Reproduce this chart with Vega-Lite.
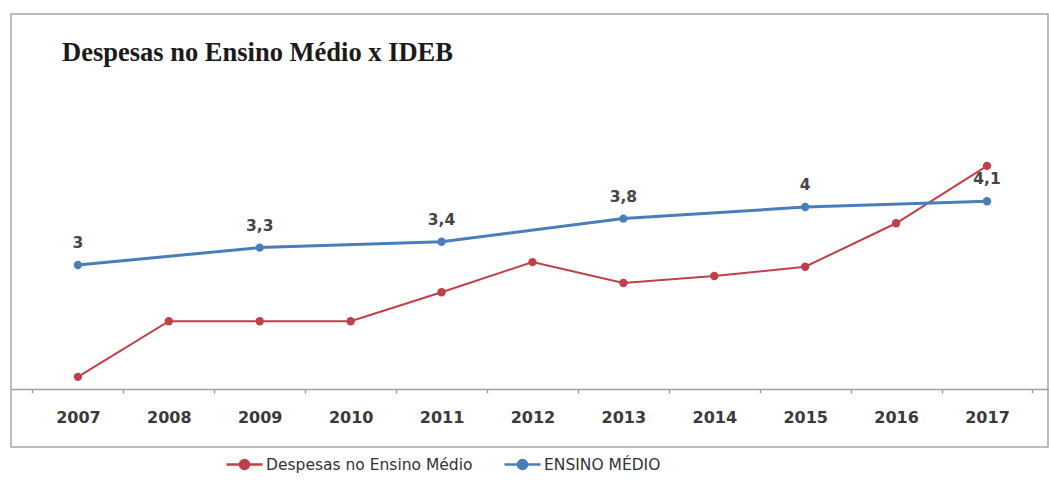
{
  "$schema": "https://vega.github.io/schema/vega-lite/v6.json",
  "autosize": {"type": "none"},
  "padding": {"left": 11, "top": 14, "right": 1, "bottom": 33},
  "width": 1037,
  "height": 433,
  "background": "white",
  "view": {"stroke": "#a6a6a6", "strokeWidth": 1.5},
  "title": {
    "text": "Despesas no Ensino Médio x IDEB",
    "anchor": "start",
    "frame": "group",
    "font": "Liberation Serif",
    "fontSize": 26.5,
    "fontWeight": "bold",
    "color": "#1a1a1a",
    "baseline": "alphabetic",
    "offset": 0,
    "dx": 51,
    "dy": 73
  },
  "data": {
    "values": [
      {"year": "2007", "series": "Despesas no Ensino Médio", "value": 1.07},
      {"year": "2008", "series": "Despesas no Ensino Médio", "value": 2.03},
      {"year": "2009", "series": "Despesas no Ensino Médio", "value": 2.03},
      {"year": "2010", "series": "Despesas no Ensino Médio", "value": 2.03},
      {"year": "2011", "series": "Despesas no Ensino Médio", "value": 2.53},
      {"year": "2012", "series": "Despesas no Ensino Médio", "value": 3.05},
      {"year": "2013", "series": "Despesas no Ensino Médio", "value": 2.69},
      {"year": "2014", "series": "Despesas no Ensino Médio", "value": 2.81},
      {"year": "2015", "series": "Despesas no Ensino Médio", "value": 2.97},
      {"year": "2016", "series": "Despesas no Ensino Médio", "value": 3.72},
      {"year": "2017", "series": "Despesas no Ensino Médio", "value": 4.71},
      {"year": "2007", "series": "ENSINO MÉDIO", "value": 3.0, "label": "3"},
      {"year": "2009", "series": "ENSINO MÉDIO", "value": 3.3, "label": "3,3"},
      {"year": "2011", "series": "ENSINO MÉDIO", "value": 3.4, "label": "3,4"},
      {"year": "2013", "series": "ENSINO MÉDIO", "value": 3.8, "label": "3,8"},
      {"year": "2015", "series": "ENSINO MÉDIO", "value": 4.0, "label": "4"},
      {"year": "2017", "series": "ENSINO MÉDIO", "value": 4.1, "label": "4,1"}
    ]
  },
  "encoding": {
    "x": {
      "field": "year",
      "type": "ordinal",
      "bandPosition": 0.5,
      "scale": {
        "type": "band",
        "domain": ["2007","2008","2009","2010","2011","2012","2013","2014","2015","2016","2017"],
        "paddingInner": 0,
        "paddingOuter": 0.2035,
        "align": 0.58
      },
      "axis": {
        "title": null,
        "orient": "bottom",
        "offset": -58,
        "tickBand": "extent",
        "grid": false,
        "domainColor": "#a0a0a0",
        "domainWidth": 1.5,
        "tickColor": "#a0a0a0",
        "tickWidth": 1.5,
        "tickSize": 4,
        "labelFont": "DejaVu Sans",
        "labelFontSize": 16,
        "labelFontWeight": "bold",
        "labelColor": "#3a3a3a",
        "labelPadding": 16,
        "labelAngle": 0
      }
    },
    "y": {
      "field": "value",
      "type": "quantitative",
      "scale": {"domain": [-0.14, 7.33], "nice": false, "zero": false},
      "axis": null
    },
    "color": {
      "field": "series",
      "type": "nominal",
      "scale": {
        "domain": ["Despesas no Ensino Médio", "ENSINO MÉDIO"],
        "range": ["#C0404A", "#4A7EBB"]
      },
      "legend": {
        "orient": "none",
        "legendX": 214,
        "legendY": 431,
        "direction": "horizontal",
        "title": null,
        "padding": 0,
        "columnPadding": 26,
        "labelOffset": 2,
        "labelFont": "DejaVu Sans",
        "labelFontSize": 15.5,
        "labelColor": "#333333",
        "labelLimit": 400,
        "symbolType": "M-1,0H1M-0.25,0A0.25,0.25,0,1,1,0.25,0A0.25,0.25,0,1,1,-0.25,0Z",
        "symbolSize": 1296,
        "symbolStrokeWidth": 2.5,
        "encode": {
          "symbols": {
            "update": {
              "fill": {"scale": "color", "field": "value"},
              "stroke": {"scale": "color", "field": "value"},
              "strokeWidth": {"value": 2.5},
              "opacity": {"value": 1}
            }
          }
        }
      }
    }
  },
  "layer": [
    {
      "transform": [{"filter": "datum.series === 'Despesas no Ensino Médio'"}],
      "mark": {"type": "line", "strokeWidth": 2}
    },
    {
      "transform": [{"filter": "datum.series === 'ENSINO MÉDIO'"}],
      "mark": {"type": "line", "strokeWidth": 3}
    },
    {
      "mark": {"type": "point", "filled": true, "size": 70, "opacity": 1}
    },
    {
      "transform": [{"filter": "datum.series === 'ENSINO MÉDIO'"}],
      "mark": {"type": "text", "dy": -22, "baseline": "middle", "font": "DejaVu Sans", "fontSize": 15.5, "fontWeight": "bold"},
      "encoding": {
        "text": {"field": "label"},
        "color": {"value": "#454545"}
      }
    }
  ]
}
